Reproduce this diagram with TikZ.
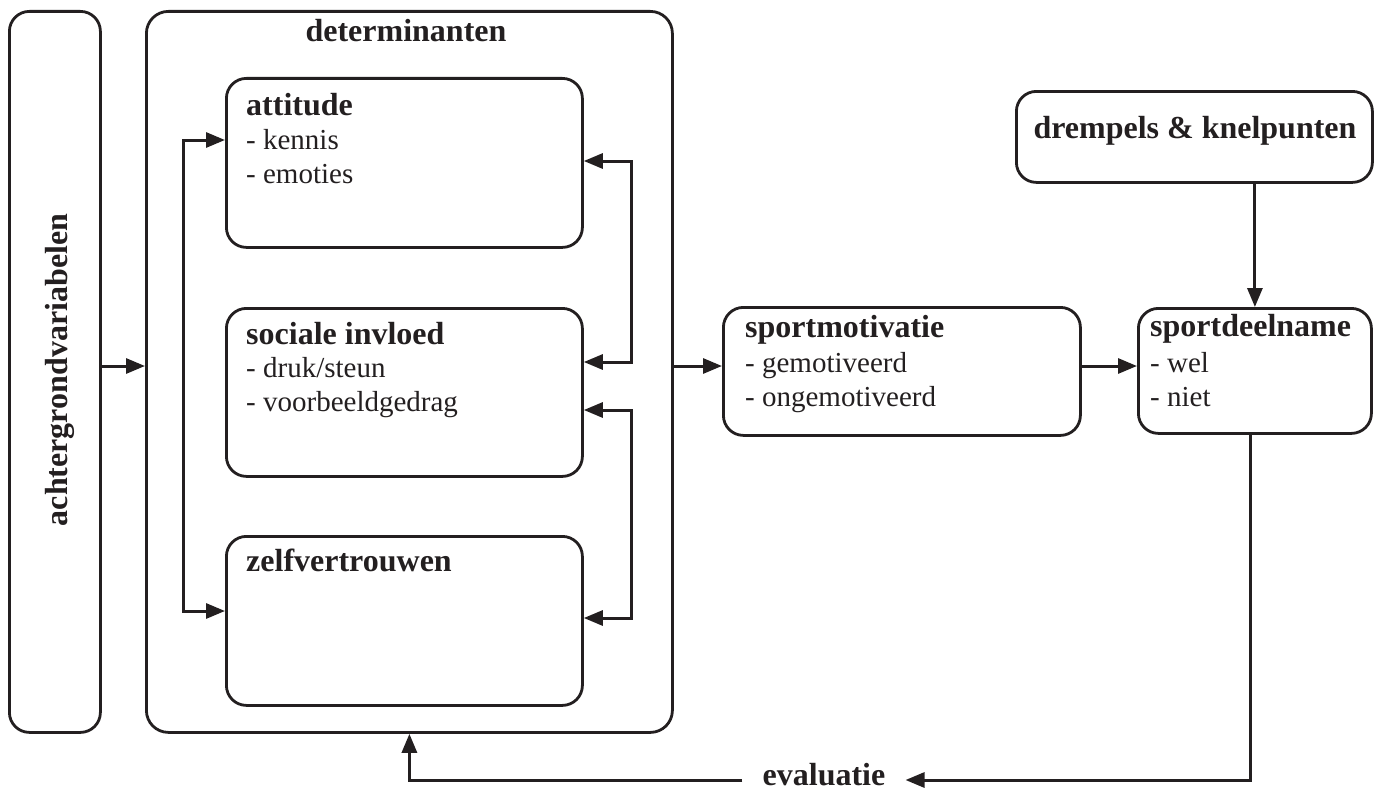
\documentclass[tikz,border=0pt]{standalone}
\usepackage{fontspec}
\setmainfont{Liberation Serif}
\usetikzlibrary{arrows.meta,calc}
\definecolor{ink}{HTML}{231F20}
\tikzset{
  box/.style={draw=ink, line width=2.8pt, rounded corners=20pt, anchor=north west, inner sep=0pt},
  txt/.style={text=ink, inner sep=0pt, anchor=base west, font=\fontsize{29}{34}\selectfont},
  ttl/.style={txt, font=\fontsize{32}{34}\selectfont\bfseries},
  arr/.style={draw=ink, line width=3pt, -{Triangle[length=19pt,width=15pt]}},
  arrboth/.style={draw=ink, line width=3pt, {Triangle[length=19pt,width=15pt]}-{Triangle[length=19pt,width=15pt]}}
}
\begin{document}
\begin{tikzpicture}[x=1pt,y=-1pt]
\useasboundingbox (0,0) rectangle (1376,792);
% boxes
\node[box, minimum width=91pt, minimum height=721pt] (ach) at (8,10) {};
\node[box, rounded corners=22pt, minimum width=526pt, minimum height=721pt] (det) at (145,10) {};
\node[box, minimum width=356pt, minimum height=169pt] (att) at (225,77) {};
\node[box, minimum width=356pt, minimum height=168pt] (soc) at (225,307) {};
\node[box, minimum width=356pt, minimum height=169pt] (zel) at (225,535) {};
\node[box, minimum width=357pt, minimum height=128pt] (mot) at (722,306) {};
\node[box, minimum width=233pt, minimum height=125pt] (part) at (1137,307) {};
\node[box, minimum width=356pt, minimum height=91pt] (drem) at (1015,90) {};
% texts
\node[ttl, anchor=base, rotate=90] (achT) at (67,370) {achtergrondvariabelen};
\node[ttl, anchor=base] (detT) at (406,42) {determinanten};
\node[ttl] (attT) at (246,115) {attitude};
\node[txt] (attA) at (246,149) {- kennis};
\node[txt] (attB) at (246,183) {- emoties};
\node[ttl] (socT) at (246,344) {sociale invloed};
\node[txt] (socA) at (246,377) {- druk/steun};
\node[txt] (socB) at (246,411) {- voorbeeldgedrag};
\node[ttl] (zelT) at (246,571) {zelfvertrouwen};
\node[ttl] (motT) at (745,337) {sportmotivatie};
\node[txt] (motA) at (745,372) {- gemotiveerd};
\node[txt] (motB) at (745,406) {- ongemotiveerd};
\node[ttl] (partT) at (1150,336) {sportdeelname};
\node[txt] (partA) at (1150,372) {- wel};
\node[txt] (partB) at (1150,406) {- niet};
\node[ttl, anchor=base] (dremT) at (1195,138) {drempels \& knelpunten};
\node[ttl, anchor=center, inner xsep=20pt, text depth=0pt] (eval) at (824,774) {evaluatie};
% bracket coordinates
\coordinate (lbT) at (183,140);
\coordinate (lbB) at (183,611);
\coordinate (r1T) at (631,161);
\coordinate (r1B) at (631,362);
\coordinate (r2T) at (631,410);
\coordinate (r2B) at (631,618);
\coordinate (ev) at (1250,780);
% connectors
\draw[arr] (ach.east |- 0,366) -- (det.west |- 0,366);
\draw[arr] (det.east |- 0,366) -- (mot.west |- 0,366);
\draw[arr] (mot.east |- 0,366) -- (part.west |- 0,366);
\draw[arr] (part.north |- drem.south) -- (part.north);
\draw[arrboth] (att.west |- lbT) -- (lbT) -- (lbB) -- (zel.west |- lbB);
\draw[arrboth] (att.east |- r1T) -- (r1T) -- (r1B) -- (soc.east |- r1B);
\draw[arrboth] (soc.east |- r2T) -- (r2T) -- (r2B) -- (zel.east |- r2B);
\draw[arr] (part.south -| ev) -- (ev) -- (eval.east |- ev);
\draw[arr] (eval.west |- ev) -| (det.south);
\end{tikzpicture}
\end{document}
